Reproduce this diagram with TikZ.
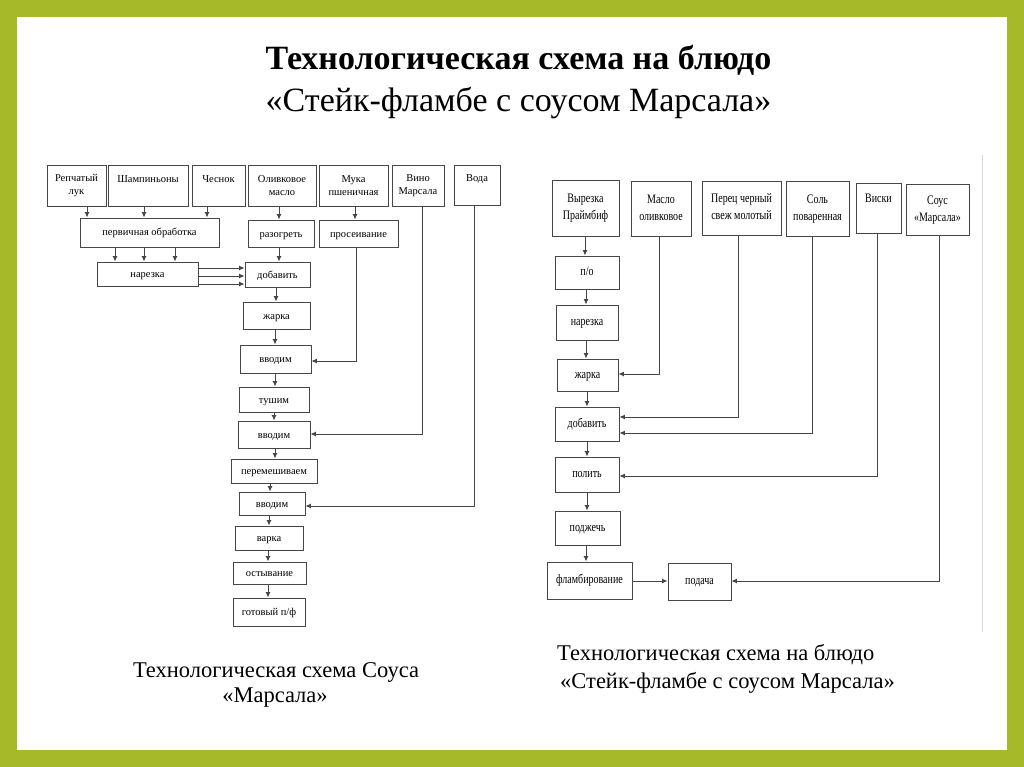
\documentclass[tikz,border=0pt]{standalone}
\usepackage{fontspec}
\setmainfont{Liberation Serif}
\usepackage{graphicx}
\usetikzlibrary{arrows.meta}
\definecolor{framegreen}{RGB}{166,185,40}
\definecolor{lnc}{RGB}{70,70,70}
\newcommand\rs[1]{\scalebox{1}[1.3]{\begin{tabular}{@{}c@{}}#1\end{tabular}}}
\newcommand\mkbox[7]{\node[#6, minimum width={#4-#2}, minimum height={#5-#3}] (#1) at ({(#2+#4)/2},{(#3+#5)/2}) {#7};}
\tikzset{
  bx/.style={draw=lnc, line width=0.9pt, inner sep=0pt, align=center, font=\fontsize{10.5}{13.5}\selectfont},
  bxa/.style={bx, text height=8pt, text depth=1pt},
  rbx/.style={bx, font=\fontsize{10}{13}\selectfont},
  arr/.style={draw=lnc, line width=0.9pt, -{Latex[length=5.5pt,width=5pt]}},
  ttl/.style={font=\fontsize{34}{40}\selectfont, anchor=base, inner sep=0pt},
  captxt/.style={font=\fontsize{22.5}{27}\selectfont, inner sep=0pt}
}
\begin{document}
\begin{tikzpicture}[x=1pt,y=-1pt]
\useasboundingbox (0,0) rectangle (1024,767);
\fill[framegreen] (0,0) rectangle (1024,767);
\fill[white] (17,17) rectangle (1007,750);
% titles
\node[ttl, font=\fontsize{34}{40}\selectfont\bfseries] (t1) at (518.5,70) {Технологическая схема на блюдо};
\node[ttl] (t2) at (518.5,112) {«Стейк-фламбе с соусом Марсала»};
% left diagram
\mkbox{rl}{47}{165}{106}{206}{bx}{Репчатый\\лук}
\mkbox{sh}{108}{165}{188}{206}{bx}{Шампиньоны\\~}
\mkbox{ch}{192}{165}{245}{206}{bx}{Чеснок\\~}
\mkbox{ol}{248}{165}{316}{206}{bx}{Оливковое\\масло}
\mkbox{mu}{319}{165}{388}{206}{bx}{Мука\\пшеничная}
\mkbox{vi}{392}{165}{444}{206}{bx}{Вино\\Марсала}
\mkbox{vo}{454}{165}{500}{205}{bx}{Вода\\~}
\mkbox{po}{80}{218}{219}{247}{bxa}{первичная обработка}
\mkbox{nar}{97}{262}{198}{286}{bxa}{нарезка}
\mkbox{raz}{248}{220}{314}{247}{bxa}{разогреть}
\mkbox{pr}{319}{220}{398}{247}{bxa}{просеивание}
\mkbox{dob}{245}{262}{310}{287}{bxa}{добавить}
\mkbox{zh}{243}{302}{310}{329}{bxa}{жарка}
\mkbox{vv1}{240}{345}{311}{373}{bxa}{вводим}
\mkbox{tu}{239}{387}{309}{412}{bxa}{тушим}
\mkbox{vv2}{238}{421}{310}{448}{bxa}{вводим}
\mkbox{pe}{231}{459}{317}{483}{bxa}{перемешиваем}
\mkbox{vv3}{239}{492}{305}{515}{bxa}{вводим}
\mkbox{va}{235}{526}{303}{550}{bxa}{варка}
\mkbox{os}{233}{562}{306}{584}{bxa}{остывание}
\mkbox{go}{233}{598}{305}{626}{bxa}{готовый п/ф}
% left connectors
\draw[arr] (87,0 |- rl.south) -- (87,0 |- po.north);
\draw[arr] (144,0 |- sh.south) -- (144,0 |- po.north);
\draw[arr] (207,0 |- ch.south) -- (207,0 |- po.north);
\draw[arr] (115,0 |- po.south) -- (115,0 |- nar.north);
\draw[arr] (144,0 |- po.south) -- (144,0 |- nar.north);
\draw[arr] (175,0 |- po.south) -- (175,0 |- nar.north);
\draw[arr] (nar.east |- 0,268) -- (dob.west |- 0,268);
\draw[arr] (nar.east |- 0,276) -- (dob.west |- 0,276);
\draw[arr] (nar.east |- 0,284) -- (dob.west |- 0,284);
\draw[arr] (279,0 |- ol.south) -- (279,0 |- raz.north);
\draw[arr] (279,0 |- raz.south) -- (279,0 |- dob.north);
\draw[arr] (355,0 |- mu.south) -- (355,0 |- pr.north);
\draw[arr] (276,0 |- dob.south) -- (276,0 |- zh.north);
\draw[arr] (275,0 |- zh.south) -- (275,0 |- vv1.north);
\draw[arr] (275,0 |- vv1.south) -- (275,0 |- tu.north);
\draw[arr] (274,0 |- tu.south) -- (274,0 |- vv2.north);
\draw[arr] (275,0 |- vv2.south) -- (275,0 |- pe.north);
\draw[arr] (270,0 |- pe.south) -- (270,0 |- vv3.north);
\draw[arr] (269,0 |- vv3.south) -- (269,0 |- va.north);
\draw[arr] (268,0 |- va.south) -- (268,0 |- os.north);
\draw[arr] (268,0 |- os.south) -- (268,0 |- go.north);
\draw[arr] (356,0 |- pr.south) |- (vv1.east |- 0,361);
\draw[arr] (422,0 |- vi.south) |- (vv2.east |- 0,434);
\draw[arr] (474,0 |- vo.south) |- (vv3.east |- 0,506);
% right diagram
\mkbox{vy}{552}{180}{619}{236}{rbx}{\rs{Вырезка\\Праймбиф}}
\mkbox{ma}{631}{181}{691}{236}{rbx}{\rs{Масло\\оливковое}}
\mkbox{pc}{702}{181}{781}{235}{rbx}{\rs{Перец черный\\свеж молотый}}
\mkbox{so}{786}{181}{849}{236}{rbx}{\rs{Соль\\поваренная}}
\mkbox{vs}{856}{183}{901}{233}{rbx}{\rs{Виски\\~}}
\mkbox{su}{906}{184}{969}{235}{rbx}{\rs{Соус\\«Марсала»}}
\mkbox{p2}{555}{256}{619}{289}{rbx}{\rs{п/о}}
\mkbox{n2}{556}{305}{618}{340}{rbx}{\rs{нарезка}}
\mkbox{z2}{557}{359}{618}{391}{rbx}{\rs{жарка}}
\mkbox{d2}{555}{407}{619}{441}{rbx}{\rs{добавить}}
\mkbox{pl}{555}{457}{619}{492}{rbx}{\rs{полить}}
\mkbox{pj}{555}{511}{620}{545}{rbx}{\rs{поджечь}}
\mkbox{fl}{547}{562}{632}{599}{rbx}{\rs{фламбирование}}
\mkbox{pd}{668}{563}{731}{600}{rbx}{\rs{подача}}
% right connectors
\draw[arr] (585,0 |- vy.south) -- (585,0 |- p2.north);
\draw[arr] (586,0 |- p2.south) -- (586,0 |- n2.north);
\draw[arr] (586,0 |- n2.south) -- (586,0 |- z2.north);
\draw[arr] (587,0 |- z2.south) -- (587,0 |- d2.north);
\draw[arr] (587,0 |- d2.south) -- (587,0 |- pl.north);
\draw[arr] (587,0 |- pl.south) -- (587,0 |- pj.north);
\draw[arr] (586,0 |- pj.south) -- (586,0 |- fl.north);
\draw[arr] (fl.east |- 0,581) -- (pd.west |- 0,581);
\draw[arr] (659,0 |- ma.south) |- (z2.east |- 0,374);
\draw[arr] (738,0 |- pc.south) |- (d2.east |- 0,417);
\draw[arr] (812,0 |- so.south) |- (d2.east |- 0,433);
\draw[arr] (877,0 |- vs.south) |- (pl.east |- 0,476);
\draw[arr] (939,0 |- su.south) |- (pd.east |- 0,581);
\draw[black!15, line width=1pt] (982,155) -- (982,632);
% captions
\node[captxt, anchor=base] (c1a) at (276,677) {Технологическая схема Соуса};
\node[captxt, anchor=base] (c1b) at (275,702) {«Марсала»};
\node[captxt, anchor=base west] (c2a) at (557,660) {Технологическая схема на блюдо};
\node[captxt, anchor=base west] (c2b) at (560,688) {«Стейк-фламбе с соусом Марсала»};
\end{tikzpicture}
\end{document}
